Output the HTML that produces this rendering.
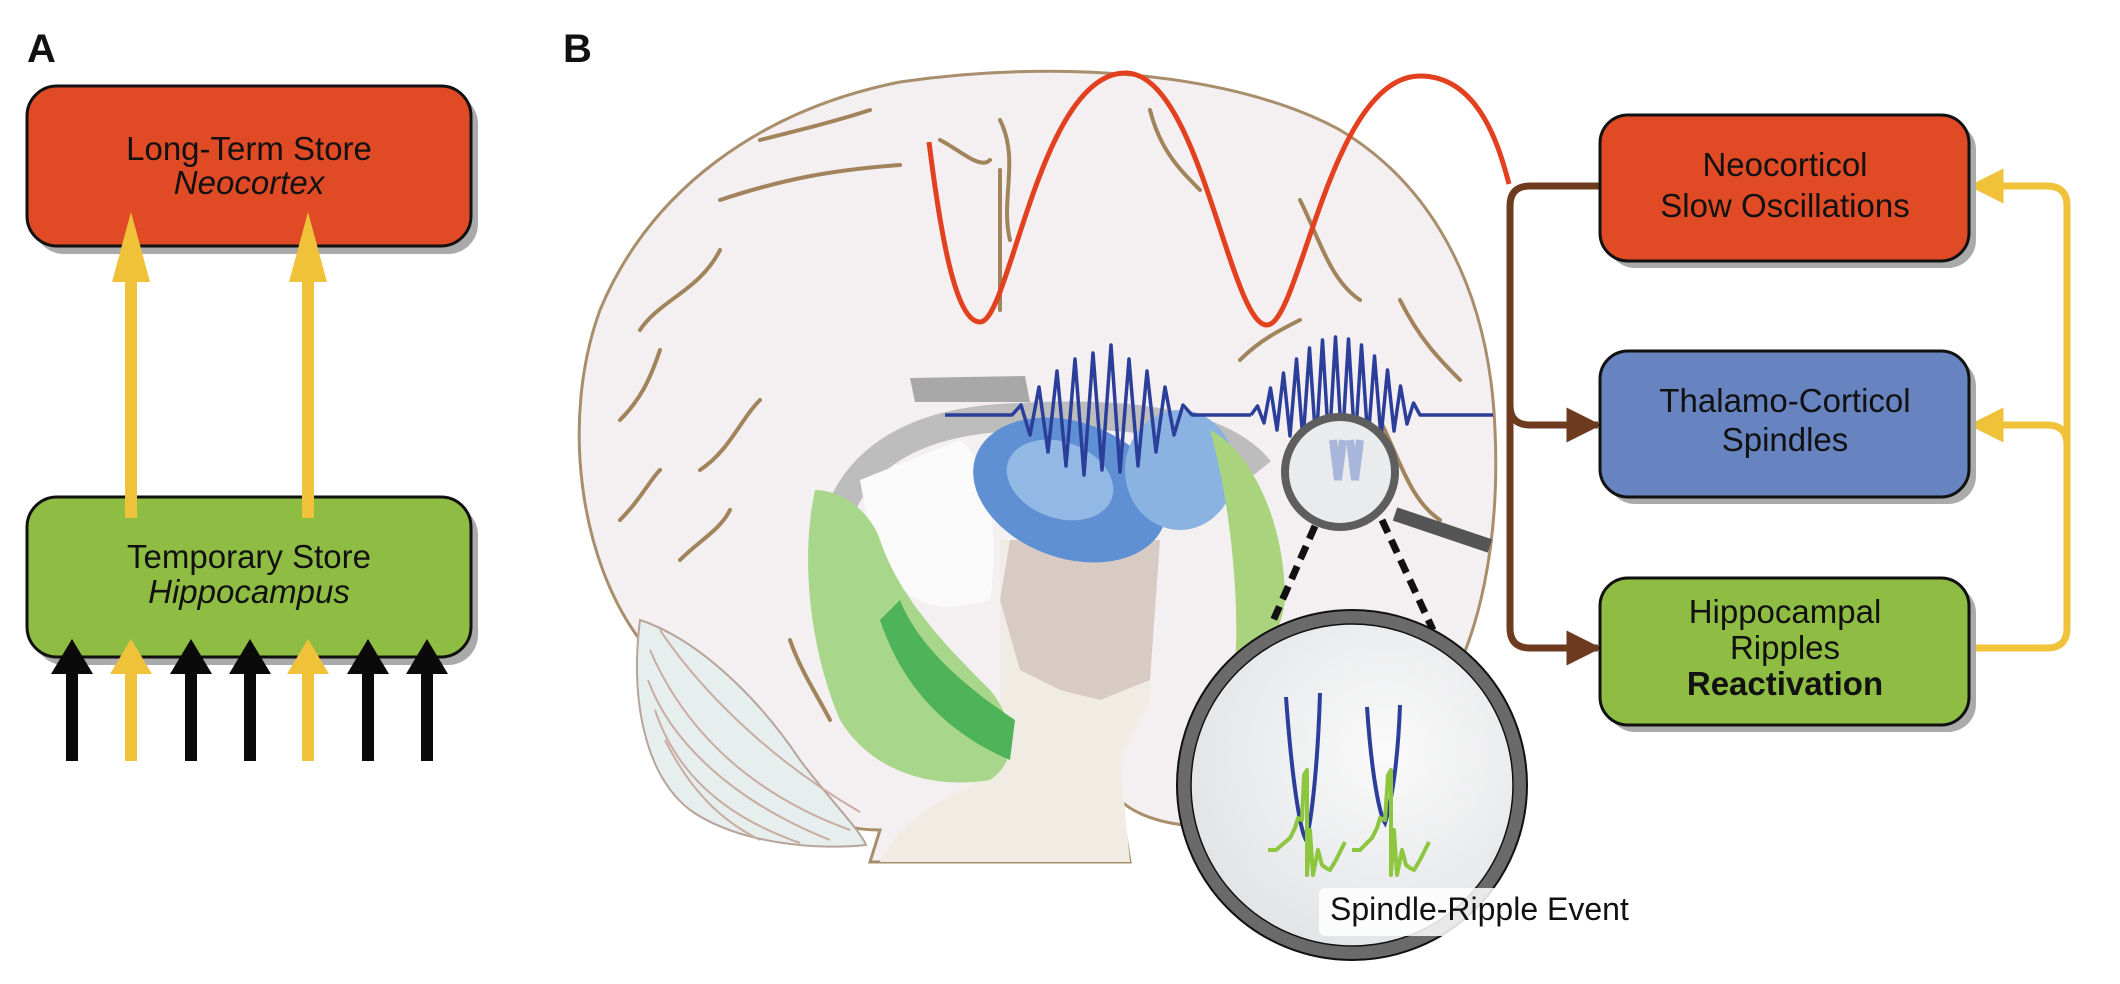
<!DOCTYPE html>
<html><head><meta charset="utf-8"><style>
html,body{margin:0;padding:0;background:#fff;}
svg{display:block;}
text{font-family:"Liberation Sans",Arial,sans-serif;fill:#111;}
</style></head><body>
<svg width="2120" height="984" viewBox="0 0 2120 984" xmlns="http://www.w3.org/2000/svg">
<defs>
<radialGradient id="lens" cx="0.6" cy="0.4" r="0.7"><stop offset="0" stop-color="#fafafa"/><stop offset="1" stop-color="#dfe1e3"/></radialGradient>
<marker id="ab" viewBox="0 0 10 10" refX="9" refY="5" markerWidth="5" markerHeight="5" orient="auto"><path d="M0,0 L10,5 L0,10 Z" fill="#6e3b1f"/></marker>
<marker id="ay" viewBox="0 0 10 10" refX="9" refY="5" markerWidth="5" markerHeight="5" orient="auto"><path d="M0,0 L10,5 L0,10 Z" fill="#f0c23a"/></marker>
</defs>

<!-- Panel A -->
<text x="27" y="62" font-size="40" font-weight="bold">A</text>
<rect x="34" y="94" width="444" height="160" rx="30" fill="#aaa"/>
<rect x="27" y="86" width="444" height="160" rx="30" fill="#e04b26" stroke="#111" stroke-width="3"/>
<text x="249" y="160" font-size="33" text-anchor="middle">Long-Term Store</text>
<text x="249" y="194" font-size="33" text-anchor="middle" font-style="italic">Neocortex</text>
<rect x="34" y="505" width="444" height="160" rx="30" fill="#aaa"/>
<rect x="27" y="497" width="444" height="160" rx="30" fill="#8fbd44" stroke="#111" stroke-width="3"/>
<text x="249" y="568" font-size="33" text-anchor="middle">Temporary Store</text>
<text x="249" y="603" font-size="33" text-anchor="middle" font-style="italic">Hippocampus</text>
<g fill="#f0c23a">
<rect x="125" y="280" width="12" height="238"/><path d="M112,282 L131,212 L150,282 Z"/>
<rect x="302" y="280" width="12" height="238"/><path d="M289,282 L308,212 L327,282 Z"/>
</g>
<g>
<g fill="#0a0a0a">
<rect x="66" y="672" width="12" height="89"/><path d="M51,674 L72,639 L93,674 Z"/>
<rect x="185" y="672" width="12" height="89"/><path d="M170,674 L191,639 L212,674 Z"/>
<rect x="244" y="672" width="12" height="89"/><path d="M229,674 L250,639 L271,674 Z"/>
<rect x="362" y="672" width="12" height="89"/><path d="M347,674 L368,639 L389,674 Z"/>
<rect x="421" y="672" width="12" height="89"/><path d="M406,674 L427,639 L448,674 Z"/>
</g>
<g fill="#f0c23a">
<rect x="125" y="672" width="12" height="89"/><path d="M110,674 L131,639 L152,674 Z"/>
<rect x="302" y="672" width="12" height="89"/><path d="M287,674 L308,639 L329,674 Z"/>
</g>
</g>

<!-- Panel B -->
<text x="563" y="62" font-size="40" font-weight="bold">B</text>

<path d="M640,640 C580,560 560,420 600,310 C650,190 760,110 900,82 C1050,60 1230,70 1340,130 C1440,190 1490,300 1495,430 C1500,540 1480,640 1440,700 C1400,760 1340,800 1260,820 C1190,835 1140,820 1120,800 L1130,862 L870,862 L880,830 C820,830 780,800 760,760 C720,720 680,690 640,640 Z" fill="#f4eff0" stroke="#a98e6c" stroke-width="3"/>
<path d="M640,620 C700,640 760,700 800,760 C830,800 860,830 866,845 C820,850 740,845 690,810 C645,775 630,700 640,620 Z" fill="#e6efee" stroke="#b7a49a" stroke-width="2"/>
<g stroke="#c9aca2" stroke-width="2" fill="none">
<path d="M650,650 C680,720 740,790 850,830"/><path d="M648,680 C670,740 730,800 830,840"/><path d="M655,710 C675,770 720,815 800,843"/><path d="M665,740 C690,790 720,820 760,840"/><path d="M660,630 C700,690 770,760 860,812"/>
</g>
<path d="M1000,540 L1150,540 L1150,700 L1120,760 L1130,862 L880,862 C900,820 940,800 980,780 L1000,700 Z" fill="#f1ece3"/>
<path d="M1010,540 L1160,540 L1150,680 L1100,700 L1060,690 L1020,670 L1000,600 Z" fill="#d8cbc4"/>
<path d="M830,560 C835,470 900,425 1000,418 C1120,410 1220,420 1260,470" fill="none" stroke="#bdbdbd" stroke-width="28"/>
<path d="M910,378 L1025,376 L1030,402 L915,402 Z" fill="#a8a8a8"/>
<path d="M860,480 C880,600 920,620 990,600 C1000,540 990,460 960,440 Z" fill="#fafafa"/>
<ellipse cx="1070" cy="490" rx="100" ry="68" fill="#5f90d4" transform="rotate(20 1070 490)"/>
<ellipse cx="1180" cy="470" rx="55" ry="60" fill="#8bb3e2"/>
<ellipse cx="1060" cy="480" rx="55" ry="38" fill="#92b8e6" transform="rotate(20 1060 480)"/>
<path d="M815,490 C800,560 810,650 840,720 C870,770 930,790 990,780 C1020,760 1015,720 990,690 C950,650 900,600 880,540 C870,510 840,490 815,490 Z" fill="#a8d68a"/>
<path d="M880,620 C900,680 940,730 1010,760 L1015,720 C970,690 920,650 900,600 Z" fill="#4fb35a"/>
<path d="M1210,430 C1250,450 1285,520 1285,600 C1280,640 1260,660 1235,665 C1240,600 1230,500 1210,430 Z" fill="#a9d47d"/>
<g stroke="#a2845c" stroke-width="4" fill="none" stroke-linecap="round">
<path d="M720,200 C780,180 830,170 900,165"/><path d="M640,330 C660,300 700,290 720,250"/><path d="M620,420 C640,400 650,380 660,350"/>
<path d="M700,470 C730,450 740,420 760,400"/><path d="M680,560 C700,540 720,530 730,510"/><path d="M1000,120 C1020,160 1000,200 1010,240"/>
<path d="M1150,110 C1160,150 1180,170 1200,190"/><path d="M1300,200 C1320,240 1330,280 1360,300"/><path d="M1380,420 C1400,460 1410,500 1440,520"/>
<path d="M1000,170 L1000,310"/><path d="M790,640 C800,670 820,700 830,720"/><path d="M1300,700 C1330,720 1360,720 1390,700"/>
<path d="M940,140 C960,150 980,170 990,160"/><path d="M1240,360 C1260,340 1280,330 1300,320"/>
<path d="M620,520 C640,500 650,480 660,470"/><path d="M760,140 C800,130 840,120 870,110"/><path d="M1400,300 C1420,340 1440,360 1460,380"/>
</g>

<path d="M929,142 C940,230 955,322 980,322 C1010,322 1040,70 1127,73 C1200,76 1230,325 1267,325 C1300,325 1330,76 1420,76 C1480,76 1500,150 1509,184" fill="none" stroke="#e3401f" stroke-width="5"/>

<polyline fill="none" stroke="#2b3f9a" stroke-width="3.5" stroke-linejoin="round" points="945,415 1012,415 1021,405 1030,435 1039,387 1048,452 1057,371 1066,466 1075,359 1084,475 1093,353 1102,470 1111,345 1120,472 1129,359 1138,466 1147,371 1156,452 1165,387 1174,435 1183,405 1192,415 1251,415"/>
<polyline fill="none" stroke="#2b3f9a" stroke-width="3.5" stroke-linejoin="round" points="1251,415 1257.5,406 1264,423 1270.5,388 1277,430 1283.5,373 1290,436 1296.5,359 1303,441 1309.5,348 1316,445 1322.5,340 1329,448 1335.5,337 1342,448 1348.5,339 1355,446 1361.5,345 1368,442 1374.5,356 1381,437 1387.5,370 1394,431 1400.5,386 1407,424 1413.5,403 1420,415 1493,415"/>

<line x1="1395" y1="514" x2="1490" y2="546" stroke="#555" stroke-width="14"/>
<circle cx="1340" cy="472" r="55" fill="#e9ebec" stroke="#5e5e5e" stroke-width="8"/>
<path d="M1333,440 L1338,480 L1343,440 M1350,440 L1355,480 L1360,440" fill="none" stroke="#a8b6dc" stroke-width="8"/>
<line x1="1315" y1="526" x2="1273" y2="621" stroke="#111" stroke-width="7" stroke-dasharray="14,8"/>
<line x1="1382" y1="520" x2="1433" y2="630" stroke="#111" stroke-width="7" stroke-dasharray="14,8"/>

<circle cx="1352" cy="785" r="168" fill="url(#lens)" stroke="#6a6a6a" stroke-width="14"/>
<circle cx="1352" cy="785" r="175" fill="none" stroke="#111" stroke-width="2"/>
<circle cx="1352" cy="785" r="161" fill="none" stroke="#111" stroke-width="1.5"/>
<path d="M1286,697 C1292,780 1300,830 1306,840 C1312,820 1318,760 1320,693" fill="none" stroke="#2b3f9a" stroke-width="4"/>
<path d="M1367,707 C1372,780 1380,815 1385,823 C1392,800 1398,760 1400,705" fill="none" stroke="#2b3f9a" stroke-width="4"/>
<g fill="none" stroke="#8dc63f" stroke-width="4" stroke-linejoin="round">
<polyline points="1268,850 1276,850 1290,838 1295,828 1298,818 1302,820 1304,775 1307,770 1307,875 1310,830 1313,875 1318,850 1322,865 1326,868 1330,870 1336,860 1341,850 1345,842"/>
<polyline points="1352,850 1360,850 1372,838 1377,828 1380,818 1385,820 1388,775 1391,770 1391,875 1394,830 1397,875 1402,850 1406,865 1410,868 1414,870 1420,860 1425,850 1429,842"/>
</g>
<rect x="1319" y="888" width="380" height="48" rx="6" fill="#fff" opacity="0.85"/>
<text x="1330" y="920" font-size="32">Spindle-Ripple Event</text>

<path d="M1600,186 L1530,186 Q1510,186 1510,206 L1510,405 Q1510,425 1530,425 L1598,425" fill="none" stroke="#6e3b1f" stroke-width="7" marker-end="url(#ab)"/>
<path d="M1510,400 L1510,628 Q1510,648 1530,648 L1598,648" fill="none" stroke="#6e3b1f" stroke-width="7" marker-end="url(#ab)"/>
<path d="M1969,648 L2047,648 Q2067,648 2067,628 L2067,206 Q2067,186 2047,186 L1972,186" fill="none" stroke="#f0c23a" stroke-width="7" marker-end="url(#ay)"/>
<path d="M2067,460 L2067,445 Q2067,425 2047,425 L1972,425" fill="none" stroke="#f0c23a" stroke-width="7" marker-end="url(#ay)"/>

<rect x="1607" y="122" width="369" height="146" rx="28" fill="#aaa"/>
<rect x="1600" y="115" width="369" height="146" rx="28" fill="#e04b26" stroke="#111" stroke-width="3"/>
<text x="1785" y="176" font-size="33" text-anchor="middle">Neocorticol</text>
<text x="1785" y="217" font-size="33" text-anchor="middle">Slow Oscillations</text>
<rect x="1607" y="358" width="369" height="146" rx="28" fill="#aaa"/>
<rect x="1600" y="351" width="369" height="146" rx="28" fill="#6783c0" stroke="#111" stroke-width="3"/>
<text x="1785" y="412" font-size="33" text-anchor="middle">Thalamo-Corticol</text>
<text x="1785" y="451" font-size="33" text-anchor="middle">Spindles</text>
<rect x="1607" y="585" width="369" height="147" rx="28" fill="#aaa"/>
<rect x="1600" y="578" width="369" height="147" rx="28" fill="#8fbd44" stroke="#111" stroke-width="3"/>
<text x="1785" y="623" font-size="33" text-anchor="middle">Hippocampal</text>
<text x="1785" y="659" font-size="33" text-anchor="middle">Ripples</text>
<text x="1785" y="695" font-size="33" text-anchor="middle" font-weight="bold">Reactivation</text>
</svg>
</body></html>
